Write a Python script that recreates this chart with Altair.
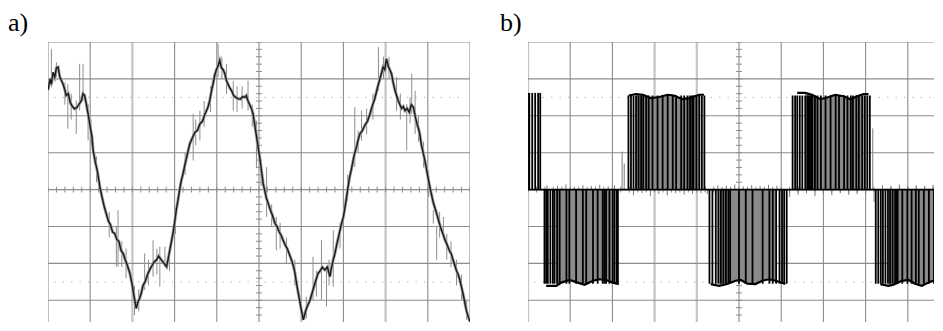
import altair as alt
import pandas as pd

# ---------------- shared layout values (divisions of the scope screen) ----------------
LABELS = ["a)", "b)"]
GRID_X = [0, 1, 2, 3, 4, 5, 6, 7, 8, 9, 10]
GRID_Y = [-4, -3, -2, -1, 0, 1, 2, 3, 4]
LIGHT_X_A = [2, 8]
LIGHT_X_B = [0, 3, 4]
DOTTED_Y = [-2.5, 2.5]
MINOR = [i / 5 for i in range(0, 51)]          # minor graticule marks along the centre lines
MINOR_Y = [-4 + i / 5 for i in range(0, 41)]

# ---------------- panel a: current trace (x, y) in divisions ----------------
A_TRACE = [
    (0.00, 2.70), (0.05, 3.00), (0.08, 2.85), (0.12, 3.18), (0.16, 3.05), (0.20, 3.30), (0.24, 3.32),
    (0.28, 3.05), (0.32, 2.95), (0.36, 2.85), (0.40, 2.70), (0.43, 2.55), (0.48, 2.60), (0.53, 2.35),
    (0.58, 2.25), (0.63, 2.19), (0.68, 2.22), (0.73, 2.30), (0.79, 2.41), (0.83, 2.60), (0.87, 2.55),
    (0.91, 2.30), (0.95, 2.05), (1.00, 1.70), (1.04, 1.45), (1.07, 1.06), (1.12, 0.75), (1.17, 0.50),
    (1.23, 0.07), (1.28, -0.20), (1.33, -0.45), (1.38, -0.65), (1.43, -0.85), (1.48, -0.95), (1.53, -1.15),
    (1.58, -1.19), (1.63, -1.35), (1.68, -1.40), (1.73, -1.65), (1.78, -1.73), (1.83, -1.90), (1.88, -2.05),
    (1.94, -2.27), (1.99, -2.55), (2.04, -2.90), (2.09, -3.22), (2.13, -3.05), (2.17, -2.95), (2.21, -2.81),
    (2.25, -2.60), (2.30, -2.50), (2.37, -2.27), (2.42, -2.15), (2.47, -2.05), (2.52, -1.95), (2.57, -1.91),
    (2.62, -1.80), (2.69, -1.91), (2.75, -2.00), (2.81, -2.09), (2.86, -1.80), (2.91, -1.50), (2.96, -1.19),
    (3.00, -0.90), (3.04, -0.55), (3.08, -0.29), (3.12, 0.00), (3.16, 0.25), (3.20, 0.43), (3.25, 0.70),
    (3.30, 0.95), (3.36, 1.24), (3.42, 1.40), (3.48, 1.55), (3.54, 1.60), (3.60, 1.78), (3.66, 1.85),
    (3.72, 2.05), (3.79, 2.23), (3.83, 2.40), (3.87, 2.65), (3.91, 2.86), (3.95, 3.10), (3.99, 3.25),
    (4.03, 3.35), (4.07, 3.50), (4.11, 3.30), (4.15, 3.25), (4.19, 3.14), (4.23, 2.95), (4.27, 2.85),
    (4.31, 2.75), (4.35, 2.68), (4.40, 2.55), (4.45, 2.50), (4.51, 2.46), (4.56, 2.45), (4.61, 2.52),
    (4.66, 2.50), (4.70, 2.55), (4.74, 2.40), (4.78, 2.30), (4.82, 2.20), (4.86, 2.05), (4.90, 1.75),
    (4.94, 1.45), (4.98, 1.15), (5.02, 0.85), (5.06, 0.50), (5.10, 0.16), (5.14, -0.05), (5.18, -0.25),
    (5.22, -0.38), (5.27, -0.55), (5.32, -0.70), (5.38, -0.92), (5.43, -1.00), (5.48, -1.15), (5.53, -1.25),
    (5.57, -1.37), (5.62, -1.50), (5.67, -1.60), (5.72, -1.75), (5.77, -1.91), (5.81, -2.05), (5.85, -2.25),
    (5.89, -2.54), (5.93, -2.80), (5.97, -3.05), (6.01, -3.30), (6.05, -3.53), (6.09, -3.35), (6.13, -3.20),
    (6.17, -3.10), (6.21, -2.99), (6.26, -2.80), (6.31, -2.60), (6.35, -2.45), (6.40, -2.27), (6.45, -2.20),
    (6.50, -2.10), (6.56, -2.18), (6.62, -2.10), (6.68, -2.36), (6.72, -2.10), (6.76, -1.90), (6.80, -1.73),
    (6.85, -1.45), (6.90, -1.20), (6.95, -0.95), (7.00, -0.74), (7.05, -0.40), (7.11, 0.07), (7.15, 0.35),
    (7.19, 0.55), (7.23, 0.79), (7.27, 1.00), (7.31, 1.15), (7.35, 1.35), (7.39, 1.51), (7.45, 1.60),
    (7.51, 1.75), (7.57, 1.85), (7.63, 2.05), (7.68, 2.25), (7.74, 2.45), (7.79, 2.68), (7.84, 2.90),
    (7.89, 3.10), (7.94, 3.32), (7.98, 3.25), (8.02, 3.54), (8.06, 3.35), (8.10, 3.25), (8.14, 3.14),
    (8.18, 2.90), (8.22, 2.70), (8.26, 2.55), (8.30, 2.41), (8.34, 2.30), (8.38, 2.20), (8.42, 2.25),
    (8.46, 2.14), (8.51, 2.20), (8.56, 2.10), (8.61, 2.30), (8.66, 2.23), (8.70, 2.00), (8.74, 1.80),
    (8.78, 1.65), (8.81, 1.51), (8.85, 1.20), (8.89, 1.00), (8.93, 0.79), (8.97, 0.55), (9.01, 0.30),
    (9.05, 0.07), (9.09, -0.15), (9.13, -0.35), (9.17, -0.50), (9.21, -0.65), (9.26, -0.85), (9.31, -1.05),
    (9.36, -1.20), (9.41, -1.37), (9.46, -1.50), (9.51, -1.65), (9.56, -1.75), (9.60, -1.91), (9.64, -2.05),
    (9.68, -2.20), (9.72, -2.30), (9.76, -2.45), (9.80, -2.65), (9.84, -2.85), (9.88, -3.08), (9.92, -3.30),
    (9.96, -3.45), (10.0, -3.58),
]

# noise spikes (x, top, bottom)
A_SPIKES = [
    (0.08, 3.81, 2.77), (0.20, 3.45, 3.05), (0.75, 3.41, 2.14), (0.83, 3.41, 2.41), (0.47, 2.86, 1.65),
    (0.67, 2.41, 1.51), (0.95, 2.32, 1.33), (1.66, -0.56, -2.09), (1.62, -1.01, -2.09), (2.29, -1.73, -2.72),
    (2.49, -1.37, -2.36), (2.65, -1.55, -2.63), (2.77, -1.55, -2.09), (3.44, 2.05, 0.79), (3.60, 2.14, 1.33),
    (4.03, 3.95, 3.05), (4.23, 3.41, 2.59), (4.39, 2.95, 2.14), (4.74, 2.95, 2.14), (4.94, 1.87, 0.61),
    (5.18, 0.61, -0.74), (5.41, -0.74, -1.64), (6.28, -1.82, -2.99), (6.48, -1.37, -2.99), (6.60, -2.18, -3.17),
    (6.76, -1.10, -2.63), (7.27, 2.23, 0.61), (7.43, 2.14, 1.33), (7.83, 3.86, 2.68), (8.26, 3.05, 2.14),
    (8.50, 2.32, 1.06), (8.62, 3.14, 2.05), (8.70, 2.68, 1.51), (9.13, -0.56, -0.92), (9.21, -1.01, -1.91),
    (9.37, -0.74, -1.37), (9.92, -2.99, -3.53),
    (0.40, 2.90, 2.30), (0.55, 2.60, 1.90), (1.02, 1.90, 1.20), (1.15, 0.90, 0.20), (1.45, -0.60, -1.30),
    (1.75, -1.40, -2.10), (1.85, -1.60, -2.40), (2.05, -2.60, -3.40), (2.15, -2.70, -3.30), (2.38, -1.90, -2.60),
    (2.58, -1.60, -2.30), (2.88, -1.50, -2.20), (3.02, -0.50, -1.20), (3.25, 1.00, 0.40), (3.50, 1.90, 1.20),
    (3.70, 2.40, 1.70), (3.85, 2.80, 2.10), (4.12, 3.60, 3.00), (4.48, 2.80, 2.10), (4.60, 2.80, 2.20),
    (4.84, 2.30, 1.70), (5.05, 0.80, 0.10), (5.30, -0.40, -1.00), (5.50, -0.90, -1.60), (5.65, -1.30, -2.00),
    (5.85, -1.90, -2.60), (6.12, -2.90, -3.50), (6.36, -2.20, -2.90), (6.66, -1.90, -2.60), (6.92, -0.90, -1.60),
    (7.10, 0.40, -0.30), (7.35, 1.60, 1.00), (7.55, 2.20, 1.50), (7.70, 2.60, 1.90), (7.95, 3.60, 3.00),
    (8.08, 3.60, 3.00), (8.35, 2.60, 1.90), (8.58, 2.50, 1.80), (8.78, 2.00, 1.30), (8.90, 1.30, 0.60),
    (9.02, 0.50, -0.20), (9.28, -0.60, -1.30), (9.45, -1.20, -1.90), (9.55, -1.40, -2.10), (9.68, -1.90, -2.60),
    (9.80, -2.30, -3.00),
]

# ---------------- panel b: PWM voltage ----------------
B_P1_X = [0.0, 0.03, 0.10, 0.17, 0.24, 0.29]
B_N1_X = [0.39, 0.43, 0.47, 0.53, 0.59, 0.63, 0.69, 0.75, 0.91, 0.98, 1.14, 1.30, 1.38, 1.54, 1.65,
          1.77, 1.81, 1.85, 1.93, 2.01, 2.05, 2.10, 2.13]
B_P2_X = [2.38, 2.44, 2.50, 2.56, 2.62, 2.68, 2.73, 2.80, 2.86, 2.95, 3.07, 3.19, 3.31, 3.43, 3.51,
          3.63, 3.70, 3.78, 3.84, 3.89, 3.92, 3.99, 4.06, 4.12, 4.18]
B_N2_X = [4.30, 4.37, 4.45, 4.51, 4.57, 4.63, 4.69, 4.75, 4.79, 5.00, 5.16, 5.32, 5.56, 5.72, 5.80,
          5.88, 5.96, 6.02, 6.07, 6.13]
B_P3_X = [6.27, 6.33, 6.38, 6.44, 6.50, 6.57, 6.62, 6.65, 6.68, 6.71, 6.74, 6.80, 6.86, 6.94, 7.05,
          7.17, 7.29, 7.37, 7.49, 7.57, 7.65, 7.70, 7.78, 7.84, 7.92, 7.98, 8.04, 8.10]
B_N3_X = [8.24, 8.30, 8.36, 8.41, 8.47, 8.53, 8.58, 8.64, 8.70, 8.73, 8.76, 8.87, 8.99, 9.09, 9.19,
          9.26, 9.38, 9.50, 9.62, 9.70, 9.77, 9.84, 9.90, 9.96]
B_BLOCKS = ["P1", "N1", "P2", "N2", "P3", "N3"]
B_LEVELS = [2.62, -2.55, 2.55, -2.55, 2.55, -2.55]
B_FILL_LO = [None, 0.6, 2.5, 4.5, 6.5, 8.5]
B_FILL_HI = [None, 2.05, 4.1, 6.0, 8.0, 10.0]

B_ENV_P1 = ([], [])
B_ENV_N1 = ([0.43, 0.67, 0.79, 0.98, 1.18, 1.34, 1.54, 1.69, 1.85, 2.01, 2.15],
            [-2.61, -2.61, -2.52, -2.45, -2.52, -2.58, -2.47, -2.43, -2.45, -2.52, -2.56])
B_ENV_P2 = ([2.39, 2.56, 2.72, 2.91, 3.11, 3.31, 3.46, 3.66, 3.82, 4.06, 4.17],
            [2.55, 2.59, 2.57, 2.48, 2.51, 2.57, 2.55, 2.45, 2.48, 2.57, 2.57])
B_ENV_N2 = ([4.33, 4.53, 4.72, 4.92, 5.04, 5.20, 5.39, 5.55, 5.71, 5.87, 6.10],
            [-2.56, -2.61, -2.56, -2.47, -2.45, -2.55, -2.56, -2.47, -2.43, -2.47, -2.56])
B_ENV_P3 = ([6.38, 6.57, 6.73, 6.93, 7.13, 7.28, 7.48, 7.64, 7.80, 7.95, 8.07],
            [2.62, 2.62, 2.57, 2.45, 2.51, 2.57, 2.53, 2.45, 2.53, 2.59, 2.59])
B_ENV_N3 = ([8.35, 8.54, 8.66, 8.86, 9.02, 9.17, 9.33, 9.49, 9.65, 9.79, 10.0],
            [-2.56, -2.61, -2.58, -2.47, -2.45, -2.55, -2.61, -2.52, -2.45, -2.45, -2.45])

B_ZSPIKE_X = [0.45, 0.70, 0.90, 1.10, 1.30, 1.50, 1.70, 1.90, 2.05, 2.23, 2.28, 2.50, 2.70, 2.90, 3.10,
              3.30, 3.50, 3.70, 3.90, 4.10, 4.25, 4.50, 4.70, 4.90, 5.10, 5.30, 5.50, 5.70, 5.90, 6.20,
              6.40, 6.60, 6.80, 7.00, 7.20, 7.40, 7.60, 7.80, 8.00, 8.17, 8.20, 8.40, 8.60, 8.80, 9.00,
              9.20, 9.40, 9.60, 9.80]
B_ZSPIKE_Y = [0.12, 0.10, 0.14, 0.08, 0.12, 0.10, 0.13, 0.09, 0.12, 1.03, 0.71, -0.15, -0.10, -0.18, -0.12,
              -0.16, -0.10, -0.14, -0.12, -0.10, -0.12, 0.12, 0.10, 0.14, 0.09, 0.12, 0.10, 0.13, 0.10, -0.20,
              -0.14, -0.10, -0.18, -0.12, -0.15, -0.10, -0.14, -0.12, -0.10, 1.66, -0.34, 0.12, 0.10, 0.14,
              0.09, 0.12, 0.10, 0.13, 0.10]

# ---------------- build ----------------
PX_PER_DIV_X = 42.2
PX_PER_DIV_Y = 36.9
WA, WB, H = 422, 406, 280
XSA = alt.Scale(domain=[0, 10], nice=False, zero=False)
XSB = alt.Scale(domain=[0, WB / PX_PER_DIV_X], nice=False, zero=False)
YS = alt.Scale(domain=[4 - H / PX_PER_DIV_Y, 4], nice=False, zero=False)
GRID_COL = "#8c8c8c"
LIGHT_COL = "#c4c4c4"
FONT = "Liberation Serif, Times New Roman, Times, serif"


def mk(xs):
    def X(f="x"):
        return alt.X(f + ":Q", scale=xs, axis=None)
    return X


def Y(f="y"):
    return alt.Y(f + ":Q", scale=YS, axis=None)


def graticule(X, light_x):
    vx = pd.DataFrame({"x": [v for v in GRID_X if v not in light_x], "y1": -4, "y2": 4})
    lx = pd.DataFrame({"x": light_x, "y1": -4, "y2": 4})
    hy = pd.DataFrame({"y": GRID_Y, "x1": 0, "x2": 10})
    dots = pd.DataFrame({"y": DOTTED_Y, "x1": 0.15, "x2": 9.9})
    vt = pd.DataFrame({"y": MINOR_Y, "x1": 4.93, "x2": 5.07})
    ht = pd.DataFrame({"x": MINOR, "y1": -0.08, "y2": 0.08})
    return [
        alt.Chart(lx).mark_rule(color=LIGHT_COL, strokeWidth=2.2, clip=True).encode(x=X(), y=Y("y1"), y2="y2"),
        alt.Chart(vx).mark_rule(color=GRID_COL, strokeWidth=1.1, clip=True).encode(x=X(), y=Y("y1"), y2="y2"),
        alt.Chart(hy).mark_rule(color=GRID_COL, strokeWidth=1.1, clip=True).encode(y=Y(), x=X("x1"), x2="x2"),
        alt.Chart(dots).mark_rule(color="#a8a8a8", strokeWidth=1, strokeDash=[1.2, 7.2], clip=True).encode(
            y=Y(), x=X("x1"), x2="x2"),
        alt.Chart(vt).mark_rule(color=GRID_COL, strokeWidth=1, clip=True).encode(y=Y(), x=X("x1"), x2="x2"),
        alt.Chart(ht).mark_rule(color=GRID_COL, strokeWidth=1, clip=True).encode(x=X(), y=Y("y1"), y2="y2"),
    ]


def label(text, dx):
    df = pd.DataFrame({"t": [text]})
    return alt.Chart(df).mark_text(align="left", baseline="alphabetic", fontSize=26,
                                   font=FONT, color="black").encode(
        x=alt.value(dx), y=alt.value(-11), text="t:N")


# panel a
XA = mk(XSA)
adf = pd.DataFrame({"x": [p[0] for p in A_TRACE], "y": [p[1] for p in A_TRACE], "i": range(len(A_TRACE))})
sdf = pd.DataFrame({"x": [s[0] for s in A_SPIKES], "y1": [s[1] for s in A_SPIKES],
                    "y2": [s[2] for s in A_SPIKES]})
panel_a = alt.layer(
    *graticule(XA, LIGHT_X_A),
    alt.Chart(sdf).mark_rule(color="#8e8e8e", strokeWidth=1, clip=True).encode(x=XA(), y=Y("y1"), y2="y2"),
    alt.Chart(adf).mark_line(color="#a0a0a0", strokeWidth=3, clip=True).encode(x=XA(), y=Y(), order="i:Q"),
    alt.Chart(adf).mark_line(color="#1a1a1a", strokeWidth=1.4, clip=True).encode(x=XA(), y=Y(), order="i:Q"),
    label(LABELS[0], -40),
).properties(width=WA, height=H)

# panel b
XB = mk(XSB)
pulse_lists = [B_P1_X, B_N1_X, B_P2_X, B_N2_X, B_P3_X, B_N3_X]
env_lists = [B_ENV_P1, B_ENV_N1, B_ENV_P2, B_ENV_N2, B_ENV_P3, B_ENV_N3]
prow, erow, frow = [], [], []
for b, xs, lvl, env, lo, hi in zip(B_BLOCKS, pulse_lists, B_LEVELS, env_lists, B_FILL_LO, B_FILL_HI):
    for x in xs:
        prow.append({"x": x, "y1": 0.0, "y2": lvl, "block": b})
    for x, y in zip(*env):
        erow.append({"x": x, "y": y, "block": b})
        if lo is not None and lo <= x <= hi:
            frow.append({"x": x, "y": y, "block": b})
pdf = pd.DataFrame(prow)
edf = pd.DataFrame(erow)
fdf = pd.DataFrame(frow)
zdf = pd.DataFrame({"x": B_ZSPIKE_X, "y1": 0.0, "y2": B_ZSPIKE_Y})
zl = pd.DataFrame({"y": [0.0], "x1": [0.0], "x2": [10.0]})

panel_b = alt.layer(
    *graticule(XB, LIGHT_X_B),
    alt.Chart(fdf).mark_area(color="#8a8a8a", opacity=1, clip=True).encode(
        x=XB(), y=Y(), y2=alt.datum(0), detail="block:N"),
    alt.Chart(pdf).mark_rule(color="#000000", strokeWidth=1.8, clip=True).encode(x=XB(), y=Y("y1"), y2="y2"),
    alt.Chart(edf).mark_line(color="#000000", strokeWidth=2.2, clip=True).encode(x=XB(), y=Y(), detail="block:N"),
    alt.Chart(zdf).mark_rule(color="#7a7a7a", strokeWidth=1, clip=True).encode(x=XB(), y=Y("y1"), y2="y2"),
    alt.Chart(zl).mark_rule(color="#000000", strokeWidth=1.8, clip=True).encode(y=Y(), x=XB("x1"), x2="x2"),
    label(LABELS[1], -28),
).properties(width=WB, height=H)

chart = alt.hconcat(panel_a, panel_b, spacing=30).configure_view(stroke=None).properties(
    padding={"left": 0, "top": 2, "right": 0, "bottom": 0})

chart.save("out.html", embed_options={"renderer": "svg", "actions": False})
